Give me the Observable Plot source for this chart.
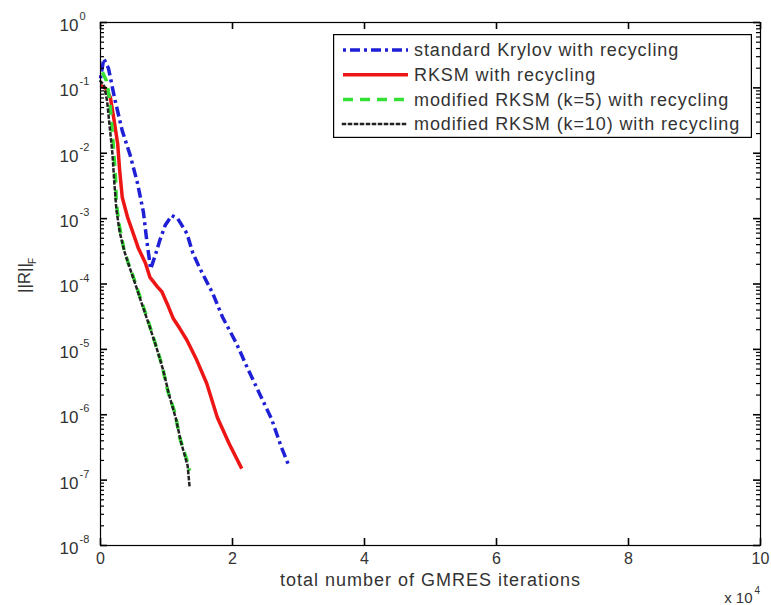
<!DOCTYPE html>
<html>
<head>
<meta charset="utf-8">
<script src="https://cdn.jsdelivr.net/npm/d3@7"></script>
<script src="https://cdn.jsdelivr.net/npm/@observablehq/plot@0.6"></script>
<style>
  html, body { margin: 0; padding: 0; background: #fff; }
  #wrap { position: relative; width: 771px; height: 605px; font-family: "Liberation Sans", Arial, sans-serif; }
  #legend { position: absolute; left: 333px; top: 34px; }
</style>
</head>
<body>
<div id="wrap"></div>
<script>
// ---- data (x: total GMRES iterations, y: ||R||_F) ----
const seriesNames = [
  "standard Krylov with recycling",
  "RKSM with recycling",
  "modified RKSM (k=5) with recycling",
  "modified RKSM (k=10) with recycling"
];
const krylovX = [0, 500, 1200, 2200, 3300, 4500, 5600, 6500, 7000, 7600, 8300, 9000, 9800, 10800, 11700, 13100, 14000, 15000, 17000, 18500, 20600, 22300, 24100, 25900, 27400, 28600];
const krylovY = [1.4e-1, 2.8e-1, 2.0e-1, 6.5e-2, 2.2e-2, 9.3e-3, 3.5e-3, 1.26e-3, 4.7e-4, 1.7e-4, 2.75e-4, 4.7e-4, 7.9e-4, 1.12e-3, 1.0e-3, 5.9e-4, 2.95e-4, 1.78e-4, 7.2e-5, 3.1e-5, 1.23e-5, 5.1e-6, 2.1e-6, 8.7e-7, 3.2e-7, 1.6e-7];
const rksmX = [0, 800, 1500, 2000, 2600, 2900, 3300, 4100, 4800, 5700, 6800, 7500, 8600, 9300, 10100, 11000, 12000, 13100, 14600, 16100, 17700, 19500, 21400];
const rksmY = [1.1e-1, 9.8e-2, 7.1e-2, 3.5e-2, 1.4e-2, 5.5e-3, 2.1e-3, 1.05e-3, 6.6e-4, 3.6e-4, 2.1e-4, 1.26e-4, 9.1e-5, 7.6e-5, 5.0e-5, 3.0e-5, 2.1e-5, 1.38e-5, 6.8e-6, 3.0e-6, 9.1e-7, 3.6e-7, 1.5e-7];
const mod5X = [300, 900, 1400, 1700, 2000, 2300, 2400, 2900, 3500, 4200, 5000, 6000, 7200, 8300, 9300, 10200, 11300, 12000, 13100, 13500];
const mod5Y = [1.74e-1, 1.29e-1, 6.5e-2, 2.7e-2, 1.1e-2, 3.8e-3, 1.7e-3, 7.4e-4, 3.6e-4, 2.1e-4, 1.26e-4, 6.3e-5, 2.75e-5, 1.23e-5, 5.8e-6, 2.3e-6, 1.05e-6, 4.5e-7, 2.0e-7, 1.4e-7];
const mod10X = [0, 500, 1000, 1400, 1800, 2100, 2400, 2900, 3600, 4400, 5200, 6200, 7400, 8500, 9500, 10400, 11400, 12200, 13200, 13500];
const mod10Y = [1.26e-1, 1.12e-1, 6.3e-2, 2.5e-2, 1.0e-2, 3.5e-3, 1.4e-3, 6.3e-4, 3.2e-4, 1.8e-4, 1.05e-4, 5.2e-5, 2.3e-5, 1.05e-5, 4.8e-6, 2.0e-6, 8.9e-7, 3.8e-7, 1.66e-7, 7.9e-8];

// ---- tick labels ----
const xTicks = [0, 20000, 40000, 60000, 80000, 100000];
const xTickLabels = ["0", "2", "4", "6", "8", "10"];
const yTickExps = [0, -1, -2, -3, -4, -5, -6, -7, -8];

// ---- styles ----
const colors = ["#1f1fd6", "#ee1515", "#35e035", "#222222"];
const dashes = ["3,4,10,4", null, "10,7", "2,4"];
const widths = [3.5, 3.5, 3.5, 2.5];

const xsList = [krylovX, rksmX, mod5X, mod10X];
const ysList = [krylovY, rksmY, mod5Y, mod10Y];
const rows = seriesNames.flatMap((s, i) => xsList[i].map((x, j) => ({series: s, x, y: ysList[i][j]})));

const yMajor = yTickExps.map(e => Math.pow(10, e));
const yMinor = d3.range(-8, 0).flatMap(e => d3.range(2, 10).map(m => m * Math.pow(10, e)));
const fmtX = new Map(xTicks.map((t, i) => [t, xTickLabels[i]]));

const W = 771, H = 605, mL = 100, mR = 11, mT = 22, mB = 60;
const fw = W - mL - mR, fh = H - mT - mB;
const FONT = "Liberation Sans, Arial, sans-serif";
const textStyle = {fill: "#333", fontFamily: FONT};
const tk = {stroke: "#000", strokeWidth: 1.6};
const xLabel = "total number of GMRES iterations";

const chart = Plot.plot({
  width: W,
  height: H,
  marginLeft: mL,
  marginRight: mR,
  marginTop: mT,
  marginBottom: mB,
  style: {fontFamily: FONT, background: "#fff"},
  x: {domain: [0, 100000], axis: null},
  y: {type: "log", domain: [1e-8, 1], axis: null},
  marks: [
    // data lines
    ...seriesNames.map((s, i) => Plot.line(rows.filter(d => d.series === s), {
      x: "x", y: "y", stroke: colors[i], strokeWidth: widths[i],
      strokeDasharray: dashes[i], strokeLinejoin: "round", strokeLinecap: i === 3 ? "square" : "butt"
    })),
    // inward ticks on all four sides
    Plot.ruleX(xTicks, {x: d => d, insetTop: fh - 7, ...tk}),
    Plot.ruleX(xTicks, {x: d => d, insetBottom: fh - 7, ...tk}),
    Plot.ruleY(yMajor, {y: d => d, insetRight: fw - 7, ...tk}),
    Plot.ruleY(yMajor, {y: d => d, insetLeft: fw - 7, ...tk}),
    Plot.ruleY(yMinor, {y: d => d, insetRight: fw - 4, ...tk, strokeWidth: 1.2}),
    Plot.ruleY(yMinor, {y: d => d, insetLeft: fw - 4, ...tk, strokeWidth: 1.2}),
    // x tick labels
    Plot.text(xTicks, {x: d => d, frameAnchor: "bottom", text: d => fmtX.get(d), dy: 13, lineAnchor: "middle", fontSize: 16, ...textStyle}),
    // y tick labels: 10 with superscript exponent
    Plot.text(yMajor, {y: d => d, frameAnchor: "left", text: () => "10", textAnchor: "end", dx: -22, dy: 3, fontSize: 17, ...textStyle}),
    Plot.text(yMajor, {y: d => d, frameAnchor: "left", text: (d, i) => String(yTickExps[i]), textAnchor: "start", dx: -21, dy: -6, fontSize: 11, ...textStyle}),
    // axis labels
    Plot.text([xLabel], {frameAnchor: "bottom", dy: 35, lineAnchor: "middle", fontSize: 18, ...textStyle}),
    Plot.text(["x 10"], {frameAnchor: "bottom-right", textAnchor: "end", dx: -8, dy: 53, lineAnchor: "middle", fontSize: 15, ...textStyle}),
    Plot.text(["4"], {frameAnchor: "bottom-right", textAnchor: "start", dx: -6, dy: 45, lineAnchor: "middle", fontSize: 10, ...textStyle}),
    Plot.text(["||R||"], {frameAnchor: "left", rotate: -90, dx: -76, dy: 9, lineAnchor: "middle", fontSize: 17, ...textStyle}),
    Plot.text(["F"], {frameAnchor: "left", rotate: -90, dx: -68, dy: -20, lineAnchor: "middle", fontSize: 10, ...textStyle}),
    Plot.frame({stroke: "#000", strokeWidth: 1.2})
  ]
});

const wrap = document.getElementById("wrap");
wrap.appendChild(chart);
d3.select(chart).selectAll("text").filter(function() { return this.textContent === xLabel; })
  .attr("letter-spacing", 1);

// ---- legend (inside the axes, MATLAB style) ----
const lw = 419, lh = 104, rowH = 24.7, firstRow = 16;
const leg = d3.select(wrap).append("svg").attr("id", "legend").attr("width", lw).attr("height", lh);
leg.append("rect").attr("x", 0.6).attr("y", 0.6).attr("width", lw - 1.2).attr("height", lh - 1.2)
  .attr("fill", "#fff").attr("stroke", "#000").attr("stroke-width", 1.2);
seriesNames.forEach((s, i) => {
  const yy = firstRow + i * rowH;
  leg.append("line").attr("x1", 10).attr("x2", 75).attr("y1", yy).attr("y2", yy)
    .attr("stroke", colors[i]).attr("stroke-width", widths[i])
    .attr("stroke-dasharray", dashes[i]).attr("stroke-linecap", i === 3 ? "square" : "butt");
  leg.append("text").attr("x", 81).attr("y", yy).attr("dy", "0.35em")
    .attr("font-size", 18).attr("letter-spacing", 0.9).attr("fill", "#333")
    .attr("font-family", FONT).text(s);
});
</script>
</body>
</html>
